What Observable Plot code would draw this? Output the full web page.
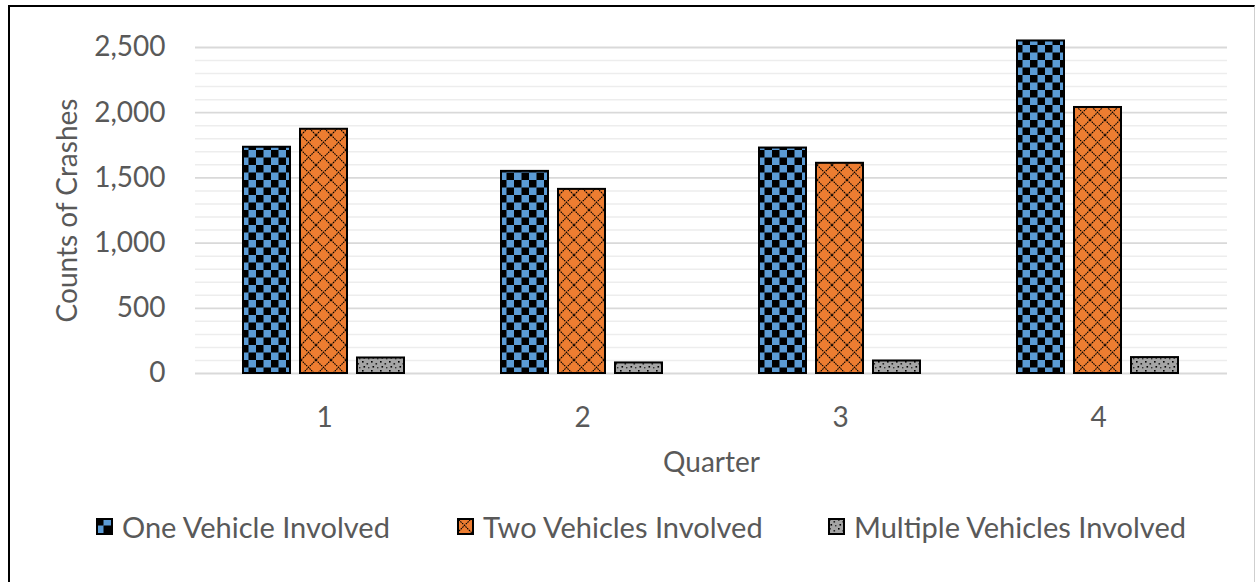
<!DOCTYPE html>
<html><head><meta charset="utf-8">
<script src="https://cdn.jsdelivr.net/npm/d3@7"></script>
<script src="https://cdn.jsdelivr.net/npm/@observablehq/plot@0.6"></script>
<style>
body{margin:0;background:#fff;font-family:Lato, sans-serif;}
#frame{position:absolute;left:8px;top:5px;width:1247px;height:600px;border-top:2px solid #000;border-left:2px solid #000;border-right:1px solid #cfcfcf;box-sizing:border-box}
#chart{position:absolute;left:0;top:0}
#legend{position:absolute;top:508px;left:0;width:1257px;height:36px;font-size:29px;color:#595959}
.item{position:absolute;top:0;height:36px;display:flex;align-items:center;white-space:nowrap}
.item svg{margin-right:9px;display:block}
</style></head><body>
<div id="frame"></div>
<div id="chart"></div>
<div id="legend"></div>
<script>
const quarters = [1, 2, 3, 4];
const seriesNames = ["One Vehicle Involved", "Two Vehicles Involved", "Multiple Vehicles Involved"];
const oneVehicle = [1735, 1550, 1729, 2550];
const twoVehicles = [1873, 1412, 1612, 2040];
const multipleVehicles = [119, 81, 96, 122];
const yTicks = [0, 500, 1000, 1500, 2000, 2500];
const minorTicks = d3.range(100, 2500, 100).filter(v => v % 500 !== 0);
const patternFills = ["url(#pat-one)", "url(#pat-two)", "url(#pat-multi)"];
const legendLeft = [96, 457, 828];

const seriesValues = [oneVehicle, twoVehicles, multipleVehicles];
const rows = [];
quarters.forEach((q, i) => seriesNames.forEach((s, j) => rows.push({quarter: q, series: s, value: seriesValues[j][i]})));

const defsMarkup = `
<pattern id="pat-one" patternUnits="userSpaceOnUse" width="15" height="15">
  <rect width="15" height="15" fill="#5b9bd5"/>
  <rect width="7.5" height="7.5" fill="#000"/>
  <rect x="7.5" y="7.5" width="7.5" height="7.5" fill="#000"/>
</pattern>
<pattern id="pat-two" patternUnits="userSpaceOnUse" width="15" height="15">
  <rect width="15" height="15" fill="#ed7d31"/>
  <path d="M0,0L15,15M15,0L0,15" stroke="#000" stroke-width="1.1" stroke-dasharray="1.6 0.8" fill="none"/>
</pattern>
<pattern id="pat-multi" patternUnits="userSpaceOnUse" width="9" height="9">
  <rect width="9" height="9" fill="#a5a5a5"/>
  <rect x="1" y="1" width="1.6" height="1.6" fill="#000"/>
  <rect x="5.5" y="3" width="1.6" height="1.6" fill="#222"/>
  <rect x="2.5" y="6" width="1.6" height="1.6" fill="#000"/>
  <rect x="7" y="7" width="1.4" height="1.4" fill="#333"/>
</pattern>`;

const chart = Plot.plot({
  width: 1257,
  height: 490,
  marginLeft: 194,
  marginRight: 30,
  marginTop: 47,
  marginBottom: 117,
  style: {fontFamily: "Lato, sans-serif", fontSize: "28px", color: "#595959", background: "transparent", overflow: "visible"},
  fx: {domain: quarters, paddingInner: 0, paddingOuter: 0, label: null, axis: null},
  x: {domain: seriesNames, paddingInner: 0.175, paddingOuter: 0.85, axis: null},
  y: {domain: [0, 2500]},
  color: {type: "ordinal", domain: seriesNames, range: patternFills},
  marks: [
    Plot.gridY(minorTicks, {stroke: "#ededed", strokeOpacity: 1, strokeWidth: 1.5}),
    Plot.gridY(yTicks, {stroke: "#d9d9d9", strokeOpacity: 1, strokeWidth: 1.8}),
    Plot.axisY(yTicks, {tickSize: 0, tickPadding: 30, label: null, fill: "#595959"}),
    Plot.axisFx({anchor: "bottom", tickSize: 0, tickPadding: 34, label: null, fill: "#595959"}),
    Plot.barY(rows, {fx: "quarter", x: "series", y: "value", fill: "series", stroke: "#000", strokeWidth: 2}),
    Plot.text(["Counts of Crashes"], {facet: "super", frameAnchor: "left", dx: -127, rotate: -90, lineAnchor: "middle", textAnchor: "middle", fill: "#595959", fontSize: 28}),
    Plot.text(["Quarter"], {facet: "super", frameAnchor: "bottom", dy: 90, lineAnchor: "middle", textAnchor: "middle", fill: "#595959", fontSize: 28})
  ]
});
const defs = document.createElementNS("http://www.w3.org/2000/svg", "defs");
defs.innerHTML = defsMarkup;
chart.insertBefore(defs, chart.firstChild);
document.getElementById("chart").appendChild(chart);

const legend = document.getElementById("legend");
seriesNames.forEach((name, i) => {
  const item = document.createElement("div");
  item.className = "item";
  item.style.left = legendLeft[i] + "px";
  item.innerHTML = `<svg width="17" height="17"><defs>${defsMarkup.replace(/id="pat-/g, 'id="lg' + i + '-pat-')}</defs><rect x="1" y="1" width="15" height="15" fill="${patternFills[i].replace('#pat-', '#lg' + i + '-pat-')}" stroke="#000" stroke-width="2"/></svg><span>${name}</span>`;
  legend.appendChild(item);
});
</script>
</body></html>
